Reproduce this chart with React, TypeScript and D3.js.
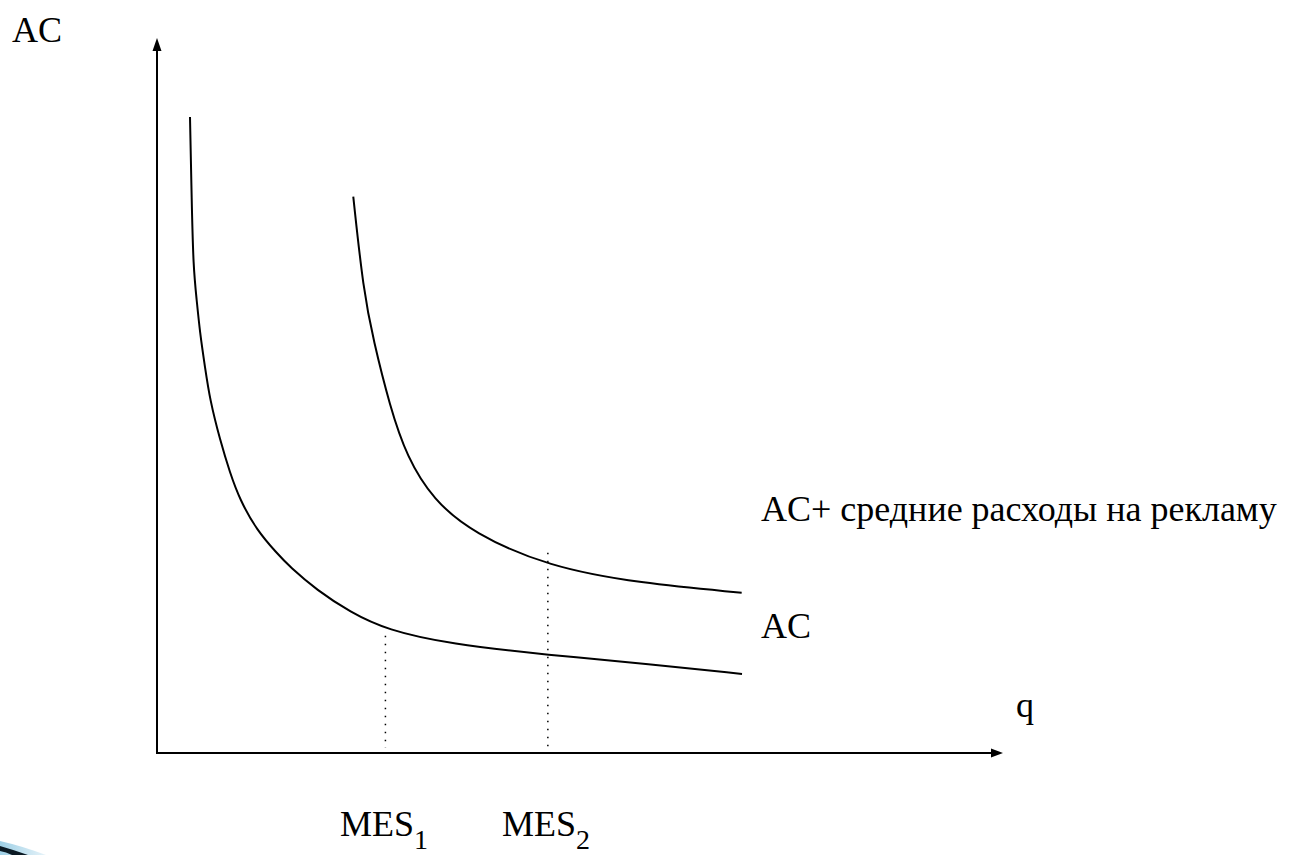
import React from 'react';
import * as d3 from 'd3';

// values, in chart units (q and AC both 0..10)
const acQ = [0.39, 0.41, 0.429, 0.469, 0.508, 0.567, 0.626, 0.745, 0.863, 0.981, 1.178, 1.415, 1.572, 1.888, 2.281, 2.719, 3.463, 4.622, 5.827, 6.915];
const acVal = [8.895, 7.734, 6.797, 6.336, 5.874, 5.399, 4.937, 4.378, 3.916, 3.538, 3.119, 2.797, 2.601, 2.28, 1.972, 1.72, 1.524, 1.371, 1.245, 1.105];
const adQ = [2.32, 2.439, 2.557, 2.754, 2.952, 3.266, 3.739, 4.625, 5.709, 6.911];
const adVal = [7.78, 6.476, 5.776, 4.843, 4.144, 3.538, 3.073, 2.606, 2.373, 2.242];
const mesQ = [2.7, 4.62];
const mesTop = [1.64, 2.8];
const mesLabels = ['1', '2'];

const width = 1300;
const height = 855;
const font = "'Liberation Serif'";

const x = d3.scaleLinear().domain([0, 10]).range([157, 1003]);
const y = d3.scaleLinear().domain([0, 10]).range([753, 38]);

const curve = (qs: number[], vs: number[]) =>
	d3.line<number>()
		.x(d => x(d))
		.y((_, i) => y(vs[i]))
		.curve(d3.curveBasis)(qs) ?? '';

export default function App() {
	const x0 = x(0);
	const y0 = y(0);
	const yTop = y(10);
	const xEnd = x(10);
	const mesX = [340, 502];

	return (
		<svg width={width} height={height} fontFamily={font} style={{ position: 'absolute', left: 0, top: 0 }}>
			<defs>
				<linearGradient id="swoosh" x1="0" x2="1">
					<stop offset="0" stopColor="#9fd0e6" />
					<stop offset="1" stopColor="#e6f3f9" />
				</linearGradient>
			</defs>
			<rect width={width} height={height} fill="#fff" />

			{/* axes */}
			<line x1={x0} y1={y0} x2={x0} y2={yTop + 10} stroke="#000" strokeWidth={2} />
			<path d={`M${x0},${yTop} L${x0 - 4.5},${yTop + 13} L${x0 + 4.5},${yTop + 13} Z`} fill="#000" />
			<line x1={x0 - 1} y1={y0} x2={xEnd - 10} y2={y0} stroke="#000" strokeWidth={2} />
			<path d={`M${xEnd},${y0} L${xEnd - 12},${y0 - 4.5} L${xEnd - 12},${y0 + 4.5} Z`} fill="#000" />

			{/* cost curves */}
			<path d={curve(acQ, acVal)} fill="none" stroke="#000" strokeWidth={2} />
			<path d={curve(adQ, adVal)} fill="none" stroke="#000" strokeWidth={2} />

			{/* MES guides */}
			{mesQ.map((q, i) => (
				<line key={i} x1={x(q)} y1={y(mesTop[i])} x2={x(q)} y2={y0 - 5}
					stroke="#000" strokeWidth={1.5} strokeDasharray="1.5 6.5" />
			))}

			<text x={12} y={42} fontFamily={font} fontSize={36}>AC</text>
			<text x={1016} y={717} fontFamily={font} fontSize={36}>q</text>
			<text x={761} y={638} fontFamily={font} fontSize={36}>AC</text>
			<text x={761} y={521} fontFamily={font} fontSize={36}>AC+ средние расходы на рекламу</text>
			{mesLabels.map((s, i) => (
				<text key={s} x={mesX[i]} y={836} fontFamily={font} fontSize={36}>
					MES<tspan fontSize={28} dy={13}>{s}</tspan>
				</text>
			))}

			{/* corner decoration of the slide template */}
			<path d="M0,841 Q22,846 46,855 L0,855 Z" fill="url(#swoosh)" />
			<path d="M0,846 Q14,850 28,855 L12,855 Q6,852 0,851 Z" fill="#0b1a24" />
		</svg>
	);
}
